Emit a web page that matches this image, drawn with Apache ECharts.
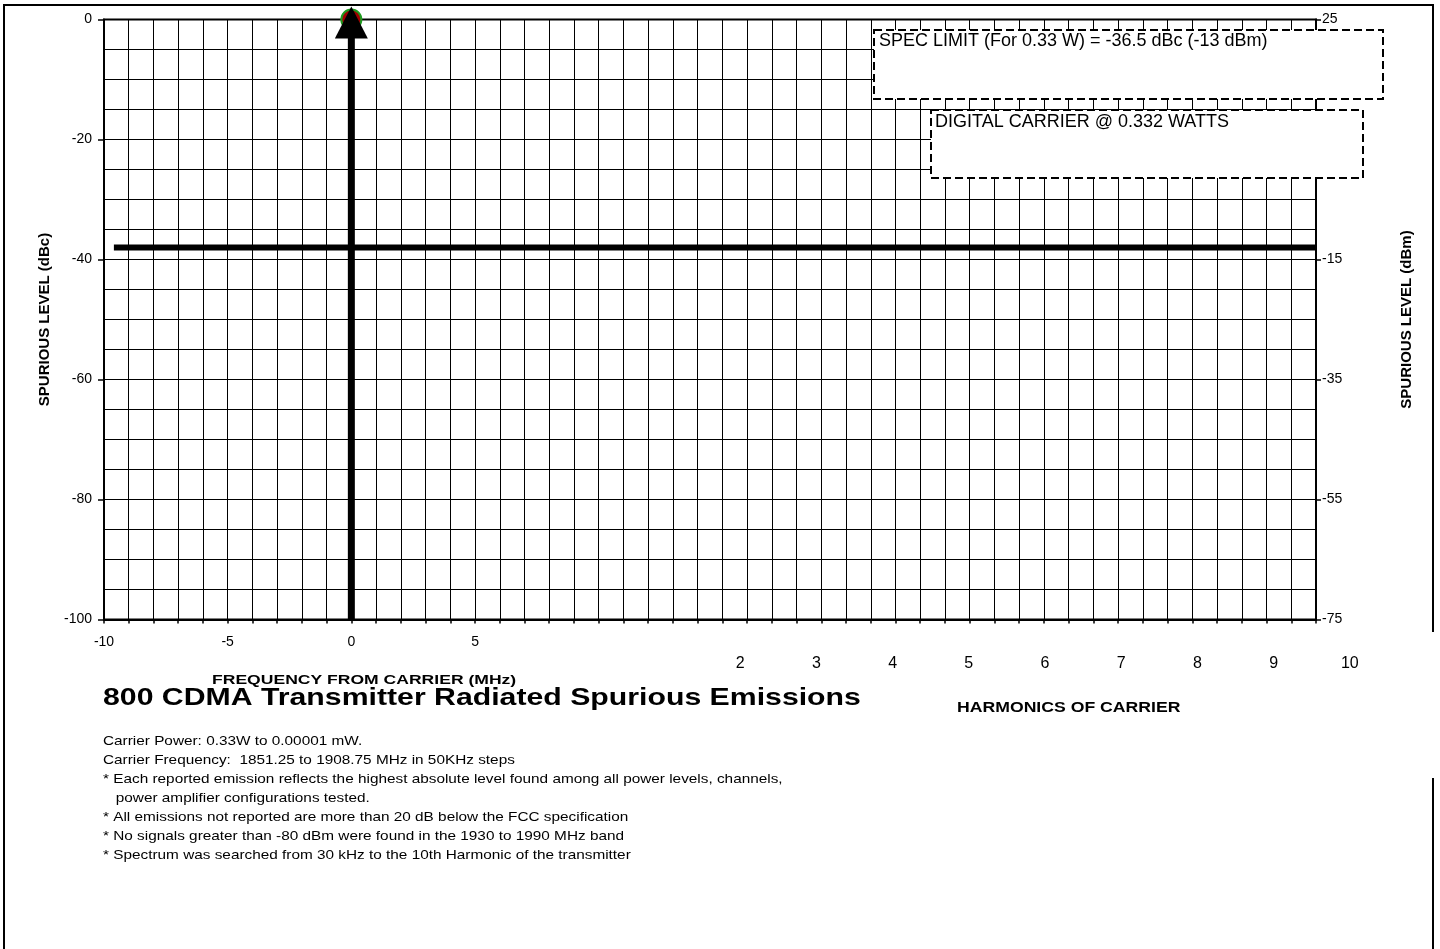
<!DOCTYPE html>
<html><head><meta charset="utf-8">
<script src="https://cdn.jsdelivr.net/npm/echarts@6/dist/echarts.min.js"></script>
<style>html,body{margin:0;padding:0;background:#fff}#c{width:1440px;height:949px}</style>
</head><body><div id="c"></div>
<script>
// ---- data ----
const freqLabels = [-10, -5, 0, 5];               // labelled ticks on MHz axis
const harmonicLabels = [2, 3, 4, 5, 6, 7, 8, 9, 10];
const carrierLine = [[0, -100], [0, 0]];           // carrier at 0 MHz, 0 dBc
const carrierPeak = [[0, 0]];
const specLimitDbm = -13;
const specLine = [[-9.6, specLimitDbm], [39, specLimitDbm]];
const specText = 'SPEC LIMIT (For 0.33 W) = -36.5 dBc (-13 dBm)';
const carrierText = 'DIGITAL CARRIER @ 0.332 WATTS';
const titleText = '800 CDMA Transmitter Radiated Spurious Emissions';
const freqAxisName = 'FREQUENCY FROM CARRIER (MHz)';
const harmAxisName = 'HARMONICS OF CARRIER';
const notes = [
  'Carrier Power: 0.33W to 0.00001 mW.',
  'Carrier Frequency:  1851.25 to 1908.75 MHz in 50KHz steps',
  '* Each reported emission reflects the highest absolute level found among all power levels, channels,',
  '   power amplifier configurations tested.',
  '* All emissions not reported are more than 20 dB below the FCC specification',
  '* No signals greater than -80 dBm were found in the 1930 to 1990 MHz band',
  '* Spectrum was searched from 30 kHz to the 10th Harmonic of the transmitter'
];

const FF = "'Liberation Sans', Arial, sans-serif";
const BLACK = '#000';

const chart = echarts.init(document.getElementById('c'));
chart.setOption({
  animation: false,
  backgroundColor: '#fff',
  grid: [
    { left: 104, top: 19.5, width: 1212, height: 600, show: true, borderColor: BLACK, borderWidth: 2, backgroundColor: 'transparent' },
    { left: 664, top: 630, width: 762, height: 20 }
  ],
  xAxis: [
    {
      gridIndex: 0, type: 'value', min: -10, max: 39, interval: 1, position: 'bottom',
      axisLine: { show: true, onZero: false, lineStyle: { color: BLACK, width: 2 } },
      axisTick: { show: true, length: 4, lineStyle: { color: BLACK, width: 1.5 } },
      axisLabel: { color: BLACK, fontSize: 14, fontFamily: FF, margin: 16,
        formatter: v => freqLabels.includes(v) ? String(v) : '' },
      splitLine: { show: true, lineStyle: { color: BLACK, width: 1 } }
    },
    {
      gridIndex: 1, type: 'value', min: 1, max: 11, interval: 1,
      axisLine: { show: false }, axisTick: { show: false }, splitLine: { show: false },
      axisLabel: { color: BLACK, fontSize: 16, fontFamily: FF, margin: 6,
        formatter: v => harmonicLabels.includes(v) ? String(v) : '' }
    }
  ],
  yAxis: [
    {
      gridIndex: 0, type: 'value', min: -100, max: 0, interval: 20, position: 'left',
      axisLine: { show: true, onZero: false, lineStyle: { color: BLACK, width: 2 } },
      axisTick: { show: true, length: 6, lineStyle: { color: BLACK, width: 1.5 } },
      axisLabel: { color: BLACK, fontSize: 14, fontFamily: FF, margin: 12 },
      splitLine: { show: true, lineStyle: { color: BLACK, width: 1 } },
      minorTick: { show: false, splitNumber: 4 },
      minorSplitLine: { show: true, lineStyle: { color: BLACK, width: 1 } },
      name: 'SPURIOUS LEVEL (dBc)', nameLocation: 'middle', nameRotate: 90, nameGap: 52,
      nameTextStyle: { color: BLACK, fontWeight: 'bold', fontSize: 15, fontFamily: FF }
    },
    {
      gridIndex: 0, type: 'value', min: -75, max: 25, interval: 20, position: 'right',
      axisLine: { show: true, onZero: false, lineStyle: { color: BLACK, width: 2 } },
      axisTick: { show: true, length: 5, lineStyle: { color: BLACK, width: 1.5 } },
      axisLabel: { color: BLACK, fontSize: 14, fontFamily: FF, margin: 6 },
      splitLine: { show: false },
      name: 'SPURIOUS LEVEL (dBm)', nameLocation: 'middle', nameRotate: 90, nameGap: 83,
      nameTextStyle: { color: BLACK, fontWeight: 'bold', fontSize: 15, fontFamily: FF }
    },
    { gridIndex: 1, type: 'value', show: false }
  ],
  series: [
    {
      name: 'Spec limit', type: 'line', xAxisIndex: 0, yAxisIndex: 1, data: specLine,
      symbol: 'none', lineStyle: { color: BLACK, width: 6 }, z: 5, silent: true
    },
    {
      name: 'Carrier peak', type: 'scatter', xAxisIndex: 0, yAxisIndex: 0, data: carrierPeak,
      symbol: 'circle', symbolSize: 20, clip: false, z: 4,
      itemStyle: { color: '#a00000', borderColor: '#1f9a1f', borderWidth: 2, opacity: 1 }
    },
    {
      name: 'Carrier', type: 'line', xAxisIndex: 0, yAxisIndex: 0, data: carrierLine,
      symbol: 'none', lineStyle: { color: BLACK, width: 7 }, z: 6, clip: false
    },
    {
      name: 'Carrier arrow', type: 'scatter', xAxisIndex: 0, yAxisIndex: 0, data: carrierPeak,
      symbol: 'triangle', symbolSize: [33, 32], symbolOffset: [0, 3], clip: false, z: 7,
      itemStyle: { color: BLACK, opacity: 1 }
    }
  ],
  graphic: [
    { type: 'polyline', z: 50, shape: { points: [[1433, 632], [1433, 5], [4, 5], [4, 949]] },
      style: { stroke: BLACK, lineWidth: 2, fill: null } },
    { type: 'line', z: 50, shape: { x1: 1433, y1: 778, x2: 1433, y2: 949 },
      style: { stroke: BLACK, lineWidth: 2 } },
    { type: 'rect', z: 100, shape: { x: 874, y: 30, width: 509, height: 69 },
      style: { fill: '#fff', stroke: BLACK, lineWidth: 2, lineDash: [8, 4] } },
    { type: 'text', z: 101, x: 879, y: 41,
      style: { text: specText, fontSize: 18, fontFamily: FF, fill: BLACK,
        align: 'left', verticalAlign: 'middle', textAlign: 'left', textVerticalAlign: 'middle' } },
    { type: 'rect', z: 100, shape: { x: 931, y: 110, width: 432, height: 68 },
      style: { fill: '#fff', stroke: BLACK, lineWidth: 2, lineDash: [8, 4] } },
    { type: 'text', z: 101, x: 935, y: 122,
      style: { text: carrierText, fontSize: 18, fontFamily: FF, fill: BLACK,
        align: 'left', verticalAlign: 'middle', textAlign: 'left', textVerticalAlign: 'middle' } },
    { type: 'text', z: 101, x: 212, y: 680, scaleX: 1.3,
      style: { text: freqAxisName, fontSize: 13.5, fontWeight: 'bold', fontFamily: FF, fill: BLACK,
        align: 'left', verticalAlign: 'middle', textAlign: 'left', textVerticalAlign: 'middle' } },
    { type: 'text', z: 101, x: 103, y: 698, scaleX: 1.26,
      style: { text: titleText, fontSize: 24, fontWeight: 'bold', fontFamily: FF, fill: BLACK,
        align: 'left', verticalAlign: 'middle', textAlign: 'left', textVerticalAlign: 'middle' } },
    { type: 'text', z: 101, x: 957, y: 708, scaleX: 1.26,
      style: { text: harmAxisName, fontSize: 14, fontWeight: 'bold', fontFamily: FF, fill: BLACK,
        align: 'left', verticalAlign: 'middle', textAlign: 'left', textVerticalAlign: 'middle' } },
    { type: 'text', z: 101, x: 103, y: 731.5, scaleX: 1.18,
      style: { text: notes.join('\n'), fontSize: 13, lineHeight: 19, fontFamily: FF, fill: BLACK,
        align: 'left', verticalAlign: 'top', textAlign: 'left', textVerticalAlign: 'top' } }
  ]
});
</script>
</body></html>
